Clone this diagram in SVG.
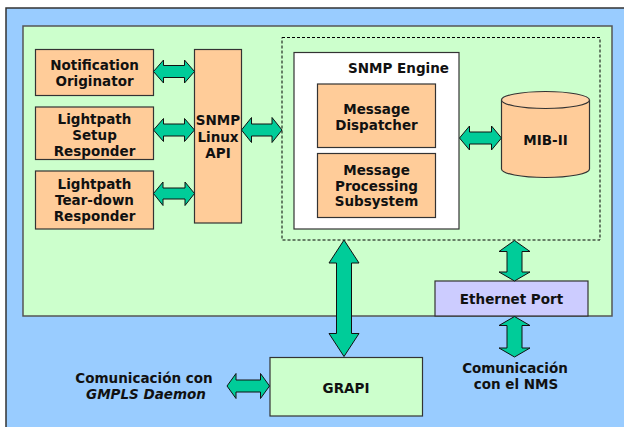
<svg xmlns="http://www.w3.org/2000/svg" width="624" height="427" viewBox="0 0 624 427">
<style>
.t{font-family:"DejaVu Sans","Verdana",sans-serif;font-weight:bold;font-size:13.5px;fill:#111;text-anchor:middle}
.box{fill:#ffcc99;stroke:#333;stroke-width:1.2}
.arr{fill:#00cc99;stroke:#111;stroke-width:1;stroke-linejoin:miter}
</style>
<rect id="bg" x="6" y="8" width="640" height="440" fill="#99ccff" stroke="#333" stroke-width="1.5"/>
<rect id="device" x="23" y="26" width="589" height="290" fill="#ccffcc" stroke="#555" stroke-width="1.5"/>
<rect id="agent" x="282" y="37.5" width="318" height="202.5" fill="none" stroke="#000" stroke-width="1" stroke-dasharray="3,2"/>

<g id="notification">
<rect class="box" x="35.5" y="49.5" width="118" height="46"/>
<text class="t" x="94.5" y="70">Notification</text>
<text class="t" x="94.5" y="86">Originator</text>
</g>
<g id="setup">
<rect class="box" x="35.5" y="107" width="118" height="52.5"/>
<text class="t" x="94.5" y="123.5">Lightpath</text>
<text class="t" x="94.5" y="139.5">Setup</text>
<text class="t" x="94.5" y="155.5">Responder</text>
</g>
<g id="teardown">
<rect class="box" x="35.5" y="171" width="118" height="58"/>
<text class="t" x="94.5" y="189">Lightpath</text>
<text class="t" x="94.5" y="205">Tear-down</text>
<text class="t" x="94.5" y="220.5">Responder</text>
</g>
<g id="api">
<rect class="box" x="194.5" y="49.5" width="47" height="173.5"/>
<text class="t" x="218" y="125">SNMP</text>
<text class="t" x="218" y="141.5">Linux</text>
<text class="t" x="218" y="157.5">API</text>
</g>
<g id="engine">
<rect x="294" y="52.5" width="165" height="176.5" fill="#fff" stroke="#333" stroke-width="1.2"/>
<text class="t" x="398.5" y="72.5">SNMP Engine</text>
</g>
<g id="dispatcher">
<rect class="box" x="317.5" y="84" width="118" height="63.5"/>
<text class="t" x="376.5" y="113.5">Message</text>
<text class="t" x="376.5" y="129.5">Dispatcher</text>
</g>
<g id="processing">
<rect class="box" x="317.5" y="153.5" width="118" height="64"/>
<text class="t" x="376.5" y="175">Message</text>
<text class="t" x="376.5" y="190.5">Processing</text>
<text class="t" x="376.5" y="206">Subsystem</text>
</g>
<g id="mib">
<path d="M501.5,100 V169 A44,8.5 0 0 0 589.5,169 V100" fill="#ffcc99" stroke="#333" stroke-width="1.2"/>
<ellipse cx="545.5" cy="100" rx="44" ry="8.5" fill="#ffd3a8" stroke="#333" stroke-width="1.2"/>
<text class="t" x="545.5" y="145">MIB-II</text>
</g>
<g id="ethernet">
<rect x="435" y="281" width="153" height="35" fill="#ccccff" stroke="#333" stroke-width="1.2"/>
<text class="t" x="511.5" y="304">Ethernet Port</text>
</g>
<g id="grapi">
<rect x="270" y="357.5" width="152.5" height="58.5" fill="#ccffcc" stroke="#333" stroke-width="1.2"/>
<text class="t" x="346" y="393">GRAPI</text>
</g>
<g id="gmpls-label">
<text class="t" x="144" y="382.5">Comunicación con</text>
<text class="t" x="146" y="398.5" font-style="italic">GMPLS Daemon</text>
</g>
<g id="nms-label">
<text class="t" x="515" y="372.5">Comunicación</text>
<text class="t" x="516" y="388.5">con el NMS</text>
</g>

<g id="connectors">
<polygon class="arr" points="153.5,71.5 163.5,60 163.5,65.5 184.5,65.5 184.5,60 194.5,71.5 184.5,83 184.5,77.5 163.5,77.5 163.5,83"/>
<polygon class="arr" points="153.5,130 163.5,118.5 163.5,124 184.5,124 184.5,118.5 194.5,130 184.5,141.5 184.5,136 163.5,136 163.5,141.5"/>
<polygon class="arr" points="153.5,193.5 163,182 163,188 185,188 185,182 194.5,193.5 185,205.5 185,199 163,199 163,205.5"/>
<polygon class="arr" points="241.5,130 251.5,117.5 251.5,124 272,124 272,117.5 282,130 272,142.5 272,136 251.5,136 251.5,142.5"/>
<polygon class="arr" points="459.5,138 469.5,126 469.5,132 491.5,132 491.5,126 501.5,138 491.5,150 491.5,144 469.5,144 469.5,150"/>
<polygon class="arr" points="227,386 236,373.5 236,380 260.5,380 260.5,373.5 269.5,386 260.5,398.5 260.5,392 236,392 236,398.5"/>
<polygon class="arr" points="344,240 359,263 351.5,263 351.5,333.5 359,333.5 344,356.5 329,333.5 336.5,333.5 336.5,263 329,263"/>
<polygon class="arr" points="514.5,240.5 530,251.5 522,251.5 522,272 530,272 514.5,281 499,272 507,272 507,251.5 499,251.5"/>
<polygon class="arr" points="514.5,316.5 530,325.5 522,325.5 522,348 530,348 514.5,357 499,348 507,348 507,325.5 499,325.5"/>
</g>
</svg>
